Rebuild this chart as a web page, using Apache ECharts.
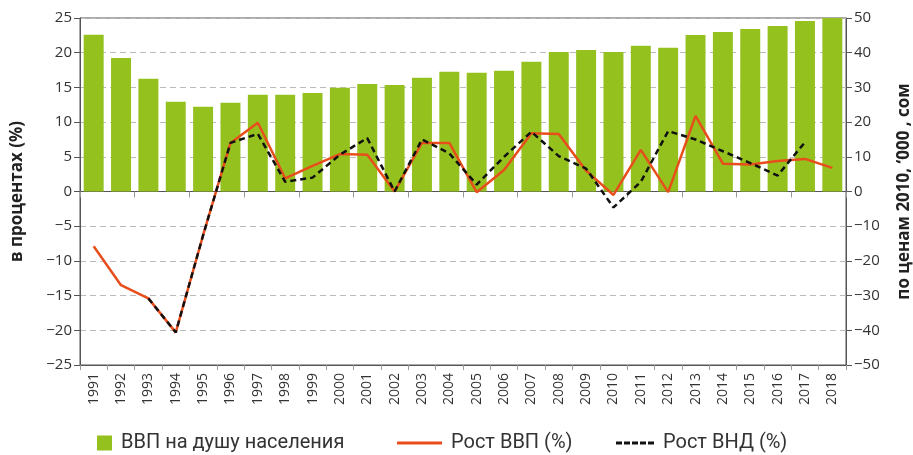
<!DOCTYPE html>
<html lang="ru">
<head>
<meta charset="UTF-8">
<title>ВВП</title>
<script src="https://cdn.jsdelivr.net/npm/echarts@6/dist/echarts.min.js"></script>
<style>
  html, body { margin: 0; padding: 0; background: #fff; }
  #main { width: 913px; height: 455px; }
</style>
</head>
<body>
<div id="main"></div>
<script>
var years = ['1991','1992','1993','1994','1995','1996','1997','1998','1999','2000',
  '2001','2002','2003','2004','2005','2006','2007','2008','2009','2010',
  '2011','2012','2013','2014','2015','2016','2017','2018'];

// ВВП на душу населения, тыс. сом (правая ось)
var gdpPerCapita = [45.2, 38.5, 32.5, 25.9, 24.4, 25.6, 27.9, 27.9, 28.4, 29.9,
  31.0, 30.7, 32.8, 34.5, 34.2, 34.8, 37.4, 40.2, 40.8, 40.2,
  42.0, 41.4, 45.1, 46.0, 46.8, 47.7, 49.1, 50.0];

// Рост ВВП, %
var gdpGrowth = [-7.9, -13.5, -15.4, -20.3, -6.3, 7.0, 9.9, 1.9, 3.7, 5.4,
  5.3, 0.0, 7.0, 7.0, -0.1, 3.1, 8.4, 8.3, 3.0, -0.5,
  6.0, -0.1, 10.9, 4.0, 3.9, 4.4, 4.7, 3.4];

// Рост ВНД, %
var gniGrowth = [null, null, -15.4, -20.3, -6.3, 7.0, 8.3, 1.4, 2.0, 5.3,
  7.7, 0.0, 7.5, 5.5, 1.0, 5.0, 8.6, 5.1, 3.3, -2.3,
  1.4, 8.7, 7.5, 5.8, 4.1, 2.3, 7.1, null];

var txt = '#333';
var axisCol = '#555';
var green = '#95c11f', red = '#e84e1b', black = '#111';
var minus = function (v) { return v < 0 ? '\u2212' + Math.abs(v) : String(v); };

// значки легенды
var lineIcon = 'path://M0,0h45v3h-45z';
var dashIcon = 'path://M0,0h6v3h-6z M8,0h6v3h-6z M16,0h6v3h-6z M24,0h6v3h-6z M32,0h6v3h-6z';
var legendText = { fontFamily: 'Roboto', fontSize: 20, color: txt, padding: [0, 0, 0, 4] };

var chart = echarts.init(document.getElementById('main'));
chart.setOption({
  animation: false,
  textStyle: { fontFamily: 'Open Sans' },
  grid: {
    left: 80, right: 67, top: 18, bottom: 90,
    outerBoundsMode: 'none', containLabel: false,
    show: true, borderColor: axisCol, borderWidth: 1
  },
  legend: [{
    left: 92, top: 428, itemWidth: 15, itemHeight: 15, textStyle: legendText,
    data: [{ name: 'ВВП на душу населения', icon: 'rect' }]
  }, {
    left: 392, top: 428, itemWidth: 45, itemHeight: 15, textStyle: legendText,
    data: [{ name: 'Рост ВВП (%)', icon: lineIcon }]
  }, {
    left: 611, top: 428, itemWidth: 38, itemHeight: 15, textStyle: legendText,
    data: [{ name: 'Рост ВНД (%)', icon: dashIcon }]
  }],
  xAxis: [{
    type: 'category', data: years, position: 'bottom',
    axisLine: { onZero: false, lineStyle: { color: axisCol } },
    axisTick: { show: true, length: 5, lineStyle: { color: '#999' } },
    axisLabel: { rotate: 90, fontSize: 14, color: txt, margin: 8 }
  }, {
    type: 'category', data: years, position: 'top',
    axisLine: { onZero: true, lineStyle: { color: axisCol } },
    axisTick: { show: true, inside: true, length: 6, lineStyle: { color: '#999' } },
    axisLabel: { show: false }
  }],
  yAxis: [{
    type: 'value', min: -25, max: 25, interval: 5, position: 'left',
    name: 'в процентах (%)', nameLocation: 'middle', nameGap: 54,
    nameTextStyle: { fontSize: 17, fontWeight: 'bold', color: '#222' },
    axisLine: { show: true, lineStyle: { color: axisCol } },
    axisTick: { show: true, length: 6, lineStyle: { color: axisCol } },
    axisLabel: { fontSize: 15, color: txt, margin: 8, formatter: minus },
    splitLine: { show: true, lineStyle: { color: '#bbb', type: [6, 4] } }
  }, {
    type: 'value', min: -50, max: 50, interval: 10, position: 'right',
    name: 'по ценам 2010, ‘000 , сом', nameLocation: 'middle', nameGap: 50,
    nameRotate: 90,
    nameTextStyle: { fontSize: 17, fontWeight: 'bold', color: '#222' },
    axisLine: { show: true, lineStyle: { color: axisCol } },
    axisTick: { show: true, length: 6, lineStyle: { color: axisCol } },
    axisLabel: { fontSize: 15, color: txt, margin: 8, formatter: minus },
    splitLine: { show: false }
  }],
  series: [{
    name: 'ВВП на душу населения', type: 'bar', yAxisIndex: 1,
    data: gdpPerCapita, barCategoryGap: '27%',
    itemStyle: { color: green }
  }, {
    name: 'Рост ВВП (%)', type: 'line', yAxisIndex: 0,
    data: gdpGrowth, symbol: 'none', z: 3,
    itemStyle: { color: red },
    lineStyle: { color: red, width: 2.5 }
  }, {
    name: 'Рост ВНД (%)', type: 'line', yAxisIndex: 0,
    data: gniGrowth, symbol: 'none', z: 4,
    itemStyle: { color: black },
    lineStyle: { color: black, width: 2.5, type: [6, 4] }
  }]
});
</script>
</body>
</html>
